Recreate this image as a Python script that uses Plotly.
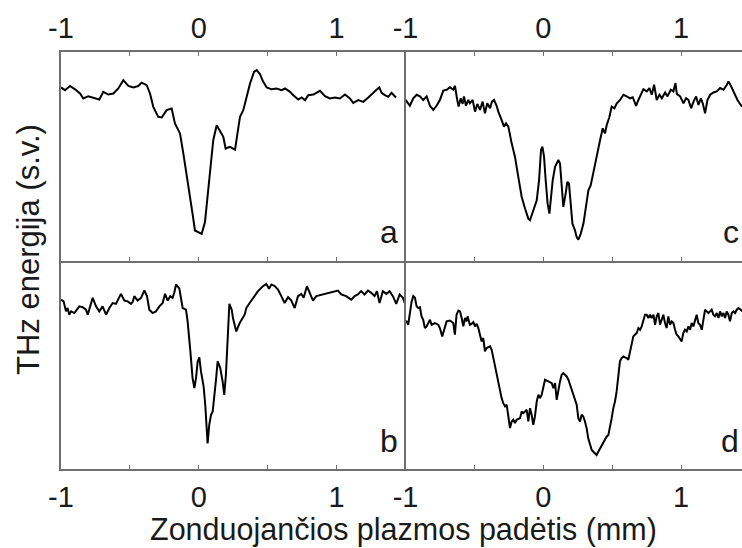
import plotly.graph_objects as go

# Probe-plasma position scans (mm) and THz energy (arb. units), four configurations
pos_a = [-1.000, -0.971, -0.935, -0.898, -0.862, -0.838, -0.802, -0.765, -0.722, -0.693,
         -0.657, -0.620, -0.584, -0.548, -0.511, -0.475, -0.439, -0.415, -0.378, -0.354,
         -0.330, -0.294, -0.269, -0.233, -0.197, -0.173, -0.136, -0.112, -0.088, -0.064,
         -0.045, -0.028, -0.003, 0.021, 0.045, 0.069, 0.086, 0.105, 0.130, 0.154,
         0.178, 0.195, 0.226, 0.263, 0.280, 0.299, 0.323, 0.347, 0.372, 0.401,
         0.420, 0.444, 0.468, 0.493, 0.529, 0.565, 0.601, 0.626, 0.662, 0.686,
         0.722, 0.747, 0.771, 0.795, 0.831, 0.880, 0.916, 0.952, 0.988, 1.025,
         1.061, 1.097, 1.121, 1.158, 1.194, 1.230, 1.262, 1.286, 1.310, 1.327,
         1.351, 1.375, 1.399, 1.431]
energy_a = [83.0, 81.7, 83.7, 82.1, 80.1, 77.7, 78.8, 78.2, 77.2, 80.9,
            79.6, 80.1, 82.5, 86.5, 83.7, 83.0, 83.7, 85.3, 84.1, 80.1,
            73.7, 68.9, 68.6, 72.1, 72.9, 65.7, 60.9, 51.3, 41.7, 32.1,
            22.4, 14.4, 13.6, 12.8, 18.4, 35.3, 48.1, 57.7, 64.9, 61.7,
            59.3, 53.7, 54.5, 53.2, 60.9, 68.9, 72.1, 78.5, 84.9, 90.5,
            91.3, 89.4, 85.7, 83.0, 82.1, 82.5, 81.7, 82.5, 80.9, 79.3,
            77.2, 78.2, 76.9, 79.3, 79.6, 81.4, 78.8, 77.7, 78.2, 77.7,
            79.6, 77.7, 75.6, 76.9, 76.1, 78.2, 80.4, 81.7, 83.0, 80.4,
            79.3, 78.5, 80.4, 78.2]

pos_b = [-1.000, -0.981, -0.964, -0.952, -0.940, -0.927, -0.903, -0.879, -0.867, -0.843,
         -0.819, -0.806, -0.782, -0.770, -0.746, -0.722, -0.698, -0.673, -0.649, -0.625,
         -0.601, -0.577, -0.565, -0.540, -0.516, -0.492, -0.480, -0.468, -0.444, -0.419,
         -0.395, -0.376, -0.359, -0.335, -0.311, -0.286, -0.262, -0.245, -0.226, -0.207,
         -0.190, -0.178, -0.165, -0.141, -0.117, -0.093, -0.081, -0.061, -0.045, -0.032,
         -0.020, -0.008, 0.004, 0.016, 0.035, 0.047, 0.060, 0.064, 0.076, 0.089,
         0.101, 0.113, 0.125, 0.137, 0.156, 0.173, 0.185, 0.197, 0.209, 0.222,
         0.239, 0.248, 0.272, 0.297, 0.333, 0.345, 0.369, 0.393, 0.430, 0.466,
         0.490, 0.510, 0.527, 0.551, 0.575, 0.599, 0.623, 0.648, 0.672, 0.696,
         0.720, 0.744, 0.761, 0.785, 0.804, 0.829, 0.853, 0.877, 0.913, 0.949,
         0.986, 1.010, 1.034, 1.070, 1.107, 1.131, 1.155, 1.179, 1.203, 1.228,
         1.252, 1.276, 1.293, 1.312, 1.336, 1.361, 1.385, 1.409, 1.433, 1.458,
         1.482, 1.494]
energy_b = [81.2, 80.4, 75.6, 77.2, 74.0, 75.6, 74.8, 77.2, 78.0, 77.6,
            76.4, 74.0, 79.6, 82.1, 78.0, 75.6, 78.0, 74.0, 77.2, 79.6,
            79.2, 82.1, 84.0, 80.8, 80.4, 79.2, 80.1, 82.9, 80.8, 82.1,
            85.6, 82.9, 76.4, 74.8, 75.6, 78.0, 79.6, 84.0, 80.8, 82.9,
            82.1, 84.5, 88.5, 86.5, 77.2, 76.4, 70.8, 56.4, 43.6, 38.8,
            43.6, 51.6, 53.5, 46.8, 39.6, 30.8, 16.3, 12.3, 21.2, 26.0,
            27.6, 37.2, 42.8, 51.6, 48.4, 42.0, 35.6, 45.2, 66.0, 79.2,
            76.4, 72.4, 66.0, 70.0, 74.0, 77.2, 79.6, 82.1, 85.3, 87.7,
            88.8, 86.5, 88.5, 87.7, 86.1, 82.9, 79.6, 82.4, 80.8, 77.2,
            82.9, 84.0, 82.1, 87.7, 84.5, 80.8, 82.9, 83.3, 84.0, 84.5,
            85.3, 85.6, 83.7, 82.9, 81.2, 82.9, 83.7, 85.3, 83.7, 85.6,
            84.5, 82.9, 85.3, 79.6, 85.3, 84.0, 85.3, 82.9, 79.2, 83.7,
            82.1, 79.6]

pos_c = [-1.000, -0.969, -0.944, -0.920, -0.896, -0.872, -0.847, -0.823, -0.799, -0.775,
         -0.751, -0.726, -0.702, -0.678, -0.654, -0.642, -0.625, -0.615, -0.600, -0.586,
         -0.576, -0.562, -0.545, -0.533, -0.513, -0.496, -0.479, -0.460, -0.441, -0.424,
         -0.407, -0.387, -0.373, -0.358, -0.339, -0.327, -0.303, -0.286, -0.271, -0.254,
         -0.230, -0.206, -0.182, -0.157, -0.133, -0.109, -0.097, -0.073, -0.048, -0.031,
         -0.017, -0.007, 0.005, 0.017, 0.031, 0.044, 0.056, 0.068, 0.085, 0.109,
         0.121, 0.133, 0.145, 0.162, 0.174, 0.186, 0.199, 0.211, 0.230, 0.242,
         0.254, 0.271, 0.291, 0.310, 0.327, 0.344, 0.363, 0.387, 0.412, 0.431,
         0.448, 0.460, 0.479, 0.496, 0.516, 0.533, 0.557, 0.581, 0.605, 0.630,
         0.649, 0.673, 0.690, 0.707, 0.726, 0.751, 0.770, 0.787, 0.804, 0.823,
         0.843, 0.860, 0.884, 0.901, 0.925, 0.944, 0.959, 0.969, 0.993, 1.017,
         1.036, 1.053, 1.073, 1.090, 1.109, 1.126, 1.143, 1.157, 1.174, 1.191,
         1.211, 1.235, 1.259, 1.283, 1.308, 1.332, 1.344, 1.361, 1.385, 1.409,
         1.433, 1.443]
energy_c = [77.0, 74.2, 77.8, 79.5, 78.7, 77.0, 78.7, 74.2, 72.2, 74.2,
            77.0, 81.5, 81.9, 83.1, 81.9, 83.8, 77.0, 73.8, 77.8, 75.1,
            78.7, 74.2, 77.0, 75.4, 77.0, 71.4, 75.1, 72.2, 76.2, 70.6,
            75.4, 73.0, 76.2, 77.0, 74.2, 71.4, 67.4, 64.2, 65.8, 64.2,
            56.2, 49.8, 40.1, 30.5, 24.9, 20.1, 19.3, 24.1, 28.9, 38.5,
            53.0, 54.6, 49.8, 38.5, 27.3, 22.5, 32.1, 38.5, 44.9, 48.2,
            46.5, 35.3, 25.7, 32.1, 37.7, 36.9, 25.7, 17.7, 14.4, 11.2,
            10.0, 12.8, 17.7, 25.7, 33.7, 36.1, 41.7, 49.8, 57.8, 63.4,
            61.0, 65.0, 68.7, 73.8, 73.0, 75.4, 77.0, 79.5, 78.7, 77.8,
            78.3, 74.2, 77.0, 79.5, 82.2, 81.1, 82.7, 79.5, 84.3, 77.0,
            79.5, 77.8, 80.6, 78.7, 81.9, 81.1, 85.1, 79.9, 78.7, 75.4,
            77.8, 77.0, 73.0, 76.2, 78.7, 74.6, 77.8, 75.4, 70.6, 77.0,
            79.5, 80.6, 81.1, 82.7, 81.9, 84.3, 85.9, 83.8, 80.3, 77.0,
            74.6, 73.8]

pos_d = [-1.000, -0.993, -0.981, -0.969, -0.956, -0.944, -0.932, -0.920, -0.908, -0.896,
         -0.884, -0.872, -0.860, -0.847, -0.835, -0.823, -0.811, -0.787, -0.763, -0.751,
         -0.734, -0.719, -0.702, -0.678, -0.654, -0.642, -0.630, -0.617, -0.605, -0.593,
         -0.581, -0.569, -0.557, -0.550, -0.533, -0.521, -0.508, -0.496, -0.484, -0.472,
         -0.460, -0.448, -0.436, -0.424, -0.412, -0.400, -0.387, -0.375, -0.363, -0.351,
         -0.339, -0.327, -0.315, -0.303, -0.291, -0.278, -0.266, -0.254, -0.242, -0.230,
         -0.218, -0.206, -0.194, -0.169, -0.157, -0.145, -0.133, -0.121, -0.109, -0.097,
         -0.085, -0.073, -0.061, -0.048, -0.036, -0.024, -0.012, 0.000, 0.012, 0.036,
         0.061, 0.073, 0.085, 0.097, 0.109, 0.121, 0.133, 0.145, 0.169, 0.182,
         0.194, 0.206, 0.218, 0.242, 0.254, 0.266, 0.278, 0.290, 0.302, 0.314,
         0.326, 0.338, 0.351, 0.363, 0.375, 0.387, 0.399, 0.411, 0.423, 0.435,
         0.447, 0.459, 0.472, 0.484, 0.496, 0.508, 0.520, 0.532, 0.544, 0.556,
         0.568, 0.581, 0.593, 0.605, 0.617, 0.629, 0.641, 0.653, 0.665, 0.678,
         0.690, 0.702, 0.714, 0.726, 0.738, 0.750, 0.762, 0.774, 0.786, 0.799,
         0.811, 0.823, 0.835, 0.847, 0.859, 0.871, 0.883, 0.895, 0.907, 0.920,
         0.932, 0.944, 0.956, 0.968, 0.980, 0.992, 1.004, 1.016, 1.028, 1.041,
         1.053, 1.065, 1.077, 1.089, 1.101, 1.113, 1.125, 1.137, 1.150, 1.162,
         1.174, 1.186, 1.198, 1.210, 1.222, 1.234, 1.246, 1.259, 1.271, 1.283,
         1.295, 1.307, 1.319, 1.331, 1.343, 1.355, 1.368, 1.380, 1.392, 1.404,
         1.416, 1.433, 1.443]
energy_d = [70.5, 70.8, 69.2, 74.0, 80.4, 82.9, 82.1, 78.0, 77.2, 77.6,
            73.2, 71.6, 67.6, 68.4, 70.0, 71.6, 69.2, 70.0, 69.2, 67.6,
            63.6, 66.8, 70.8, 71.2, 70.0, 64.4, 74.0, 76.0, 75.6, 72.4,
            68.4, 72.4, 70.8, 73.2, 69.2, 69.6, 70.5, 68.4, 69.6, 67.6,
            63.6, 61.2, 62.8, 56.4, 58.0, 58.3, 58.8, 57.2, 53.2, 50.0,
            46.0, 42.8, 38.0, 34.0, 31.6, 30.0, 30.8, 26.0, 19.6, 22.8,
            23.6, 22.0, 23.6, 24.4, 27.6, 26.8, 27.6, 28.4, 22.8, 29.2,
            26.0, 21.2, 25.2, 32.4, 35.6, 34.0, 35.6, 38.8, 42.8, 42.0,
            41.2, 38.8, 41.2, 33.2, 38.0, 42.0, 45.2, 46.0, 44.4, 42.8,
            40.4, 38.0, 34.8, 30.8, 24.4, 22.8, 26.0, 25.2, 22.8, 19.6,
            14.7, 11.5, 9.1, 8.3, 7.5, 6.7, 8.3, 9.9, 10.7, 13.1,
            13.9, 15.5, 16.3, 19.6, 24.4, 29.2, 32.4, 37.2, 43.6, 51.6,
            53.2, 54.0, 53.5, 53.2, 52.4, 56.4, 59.6, 63.6, 64.4, 65.2,
            67.6, 66.8, 68.4, 70.8, 74.0, 74.0, 72.4, 74.0, 72.4, 74.0,
            69.2, 73.2, 74.8, 69.2, 71.6, 74.0, 70.0, 67.6, 73.2, 69.2,
            70.8, 70.0, 66.8, 64.4, 63.6, 62.0, 61.2, 65.2, 66.8, 66.0,
            68.4, 66.8, 70.0, 68.4, 70.8, 74.0, 70.0, 69.2, 66.8, 72.4,
            76.4, 75.6, 74.8, 75.6, 76.4, 74.0, 73.2, 74.8, 72.4, 75.6,
            73.2, 74.8, 72.4, 75.6, 74.0, 70.8, 74.8, 75.6, 74.8, 76.4,
            77.2, 76.4, 75.6]

panel_letters = ["a", "b", "c", "d"]
tick_vals = [-1, -0.5, 0, 0.5, 1, 1.5]
tick_text = ["-1", "", "0", "", "1", ""]

FONT = "Liberation Sans, Arial, sans-serif"
AXIS_GREY = "#6e6e6e"
TEXT = "#1a1a1a"

fig = go.Figure()

# (x axis, y axis, data) for each panel: a top-left, b bottom-left, c top-right, d bottom-right
panels = [
    ("x3", "y3", pos_a, energy_a),
    ("x", "y", pos_b, energy_b),
    ("x4", "y4", pos_c, energy_c),
    ("x2", "y2", pos_d, energy_d),
]
for xa, ya, xs, ys in panels:
    fig.add_trace(go.Scatter(x=xs, y=ys, mode="lines", xaxis=xa, yaxis=ya,
                             line=dict(color="black", width=2), showlegend=False,
                             hoverinfo="skip"))

split = 0.506
common_x = dict(tickmode="array", tickvals=tick_vals, ticktext=tick_text,
                ticks="inside", ticklen=4, tickwidth=1, tickcolor=AXIS_GREY,
                showline=True, linecolor=AXIS_GREY, linewidth=1.5,
                showgrid=False, zeroline=False, ticklabelstandoff=1,
                tickfont=dict(family=FONT, size=29, color=TEXT))
common_y = dict(range=[0, 100], showticklabels=False, ticks="", showgrid=False,
                zeroline=False, showline=True, linecolor=AXIS_GREY, linewidth=1.5)

left_range = [-1, 1.501]
right_range = [-1, 1.442]

fig.update_layout(
    width=742, height=548,
    margin=dict(l=61, r=0, t=52, b=79),
    paper_bgcolor="white", plot_bgcolor="white",
    xaxis=dict(domain=[0, split], range=left_range, anchor="y", side="bottom", **common_x),
    yaxis=dict(domain=[0, 0.5], anchor="x", **common_y),
    xaxis2=dict(domain=[split, 1], range=right_range, anchor="y2", side="bottom", **common_x),
    yaxis2=dict(domain=[0, 0.5], anchor="x2", **common_y),
    xaxis3=dict(domain=[0, split], range=left_range, anchor="y3", side="top",
                mirror="ticks", **common_x),
    yaxis3=dict(domain=[0.5, 1], anchor="x3", **common_y),
    xaxis4=dict(domain=[split, 1], range=right_range, anchor="y4", side="top",
                mirror="ticks", **common_x),
    yaxis4=dict(domain=[0.5, 1], anchor="x4", **common_y),
)

# Panel letters in the lower-right corner of each panel
letter_pos = {"a": ("x3 domain", "y3 domain", 0.985, "right"),
              "b": ("x domain", "y domain", 0.985, "right"),
              "c": ("x4 domain", "y4 domain", 0.997, "right"),
              "d": ("x2 domain", "y2 domain", 0.997, "right")}
for letter in panel_letters:
    xr, yr, xx, anchor = letter_pos[letter]
    fig.add_annotation(text=letter, xref=xr, yref=yr, x=xx, y=0.04,
                       xanchor=anchor, yanchor="bottom", showarrow=False,
                       font=dict(family=FONT, size=32, color=TEXT))

fig.add_annotation(text="Zonduojančios plazmos padėtis (mm)", xref="paper", yref="paper",
                   x=(403 - 61) / 681, y=-(529 - 469) / 417, xanchor="center",
                   yanchor="middle", showarrow=False,
                   font=dict(family=FONT, size=30.5, color=TEXT))
fig.add_annotation(text="THz energija (s.v.)", xref="paper", yref="paper",
                   x=(28 - 61) / 681, y=(469 - 250) / 417, xanchor="center",
                   yanchor="middle", textangle=-90, showarrow=False,
                   font=dict(family=FONT, size=31, color=TEXT))

fig.write_html("out.html")
